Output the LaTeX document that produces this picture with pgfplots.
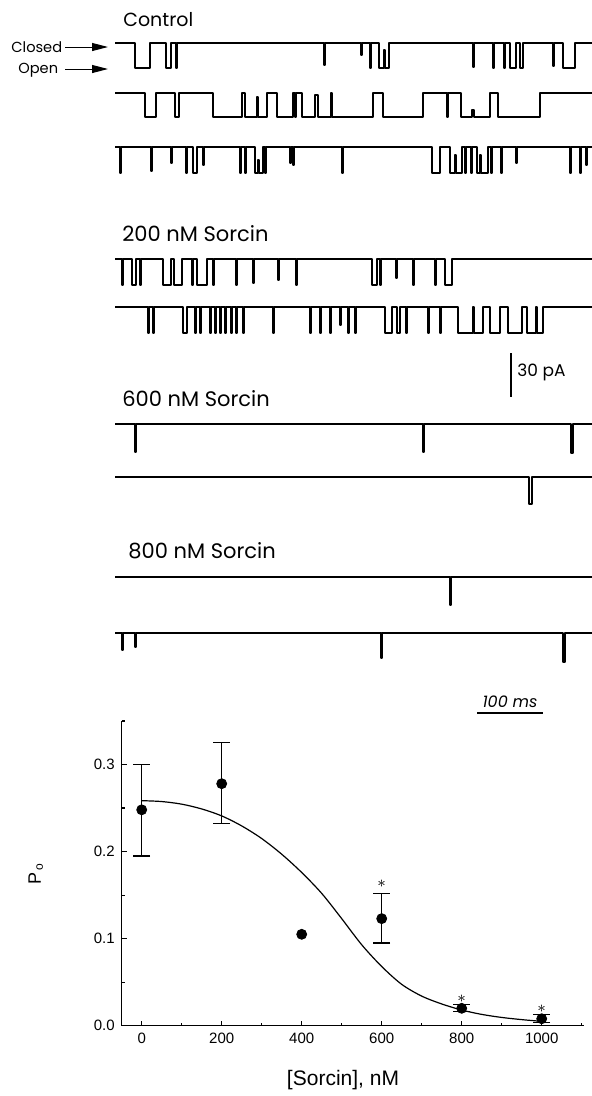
\documentclass[border=0pt]{standalone}
\usepackage{fontspec}
\setmainfont{Liberation Sans}
\newfontfamily\hand{Poppins}
\usepackage{pgfplots}
\pgfplotsset{compat=1.18}
\usetikzlibrary{arrows.meta}
\tikzset{tr/.style={black, line width=1.0pt, const plot, no marks, line join=round}}

\pgfplotstableread{
x     y      ep     em
0     0.248  0.052  0.053
200   0.278  0.047  0.046
600   0.123  0.029  0.028
800   0.020  0.004  0.004
1000  0.008  0.005  0.004
}\podata

\begin{document}
\begin{tikzpicture}
\path[use as bounding box] (0pt,0pt) rectangle (296pt,-548pt);
% ---------------- single-channel traces (pixel coordinates) ----------------
\begin{axis}[at={(0pt,0pt)}, anchor=north west, scale only axis,
  width=296pt, height=548pt, xmin=0, xmax=592, ymin=0, ymax=1096,
  y dir=reverse, hide axis, clip=false]
% Control row 1
\addplot[tr] coordinates {(115,43) (135,68) (150,43) (166,68) (170.7,43) (176.2,68) (177.2,43)
 (323.5,65) (324.5,43) (361.2,55) (362.2,43) (370.2,68) (371.2,43) (379,68) (384,50) (385,68) (389,43)
 (472.5,67) (473.5,43) (492.5,68) (493.5,43) (503.5,68) (504.5,43) (510,68) (516,43) (520,68) (523,43)
 (552.5,66) (553.5,43) (563,68) (575,43) (592,43)};
% Control row 2
\addplot[tr] coordinates {(115,93) (145,117) (156,93) (175,117) (179.3,93) (213.3,117) (241.7,93) (245,117)
 (256.5,97) (257.5,117) (266.7,93) (276.7,117) (293.3,93) (295,117) (296,93) (301.7,117) (315,95) (318,117)
 (331.2,93) (332.2,117) (373,93) (383,117) (423,93) (447,117) (448,93) (461,117) (472,110) (474,117)
 (490,93) (498,117) (540,93) (592,93)};
% Control row 3
\addplot[tr] coordinates {(115,147) (120.2,173) (121.2,147) (151.2,171) (152.2,147) (170.5,163) (171.5,147)
 (185.5,173) (186.5,147) (192.7,173) (196.7,147) (202.5,165) (203.5,147) (239.5,173) (240.5,147)
 (244.5,173) (245.5,147) (255,173) (258,160) (259,173) (263,147) (264.5,173) (265.5,147) (289.5,163)
 (290.5,147) (292.5,165) (293.5,147) (341.5,173) (342.5,147) (431.7,173) (440,147) (450,173) (455,155)
 (456,173) (461.7,147) (464.5,173) (465.5,147) (471.2,173) (472.2,147) (476.7,173) (480,155) (481,173)
 (488,147) (491.2,173) (492.2,147) (501.2,173) (502.2,147) (516.2,163) (517.2,147) (569.5,173) (570.5,147)
 (579.5,173) (580.5,147) (586.2,165) (587.2,147) (592,147)};
% 200 nM row 1
\addplot[tr] coordinates {(115,259) (122.2,285) (123.2,259) (131.7,285) (136,259) (139.5,285) (140.5,259)
 (162.7,285) (171,259) (174,285) (182,259) (192,285) (193,259) (197,285) (207,259) (212.5,285) (213.5,259)
 (236.2,285) (237.2,259) (252.5,283) (253.5,259) (277.5,280) (278.5,259) (295.5,285) (296.5,259)
 (371.7,285) (376.7,259) (379.5,285) (380.5,259) (396.2,278) (397.2,259) (412.5,285) (414,259)
 (434.5,285) (435.5,259) (445,285) (451.7,259) (592,259)};
% 200 nM row 2
\addplot[tr] coordinates {(115,307) (147.8,333) (148.8,307) (152.8,333) (153.8,307) (183.3,333) (186.7,307)
 (194.5,333) (195.5,307) (199.5,333) (200.5,307) (209.5,333) (210.5,307) (214.5,333) (215.5,307)
 (219.5,333) (220.5,307) (224.5,333) (225.5,307) (231.2,333) (232.2,307) (236.2,333) (237.2,307)
 (242.8,333) (243.8,307) (272.8,333) (273.8,307) (309.5,333) (310.5,307) (319.5,333) (320.5,307)
 (329.5,333) (330.5,307) (339.5,325) (340.5,307) (347.8,333) (348.8,307) (354.5,333) (355.5,307)
 (385,333) (391.7,307) (396.7,333) (400,307) (406.2,333) (407.2,307) (427.8,333) (428.8,307)
 (439.5,333) (440.5,307) (458.3,333) (473,307) (474,333) (483,307) (490,333) (500,307) (508,333)
 (521.7,307) (526.7,333) (536.2,307) (537.2,333) (543.3,307) (592,307)};
% 600 nM
\addplot[tr] coordinates {(115,424) (134.5,452) (136,424) (422.8,452) (423.8,424) (571.2,453) (572.7,424) (592,424)};
\addplot[tr] coordinates {(115,477) (529,504) (531.5,477) (592,477)};
% 800 nM
\addplot[tr] coordinates {(115,577) (449.5,605) (450.5,577) (592,577)};
\addplot[tr] coordinates {(115,633) (121.5,650) (122.5,633) (134.5,647) (135.5,633) (381.2,658) (382.2,633) (562.5,662) (564.5,633) (592,633)};
% scale bars
\addplot[black, no marks, line width=1pt] coordinates {(511,353) (511,397)};
\addplot[black, no marks, line width=0.6pt] coordinates {(477,713) (543,713)};
% labels
\node[anchor=base west, font=\hand\fontsize{9.5}{9.5}\selectfont, inner sep=0pt] at (axis cs:123,26) {Control};
\node[anchor=base west, font=\hand\fontsize{7.3}{7.3}\selectfont, inner sep=0pt] at (axis cs:11,52) {Closed};
\node[anchor=base west, font=\hand\fontsize{7.3}{7.3}\selectfont, inner sep=0pt] at (axis cs:18,73) {Open};
\draw[line width=0.5pt, -{Triangle[length=8pt,width=4pt]}] (axis cs:65,47) -- (axis cs:108,47);
\draw[line width=0.5pt, -{Triangle[length=8pt,width=4pt]}] (axis cs:65,69) -- (axis cs:108,69);
\node[anchor=base west, font=\hand\fontsize{10.5}{10.5}\selectfont, inner sep=0pt] at (axis cs:122,241.5) {200 nM Sorcin};
\node[anchor=base west, font=\hand\fontsize{10.5}{10.5}\selectfont, inner sep=0pt] at (axis cs:122,406.5) {600 nM Sorcin};
\node[anchor=base west, font=\hand\fontsize{10.5}{10.5}\selectfont, inner sep=0pt] at (axis cs:128,558) {800 nM Sorcin};
\node[anchor=base west, font=\hand\fontsize{8.5}{8.5}\selectfont, inner sep=0pt] at (axis cs:517,376) {30 pA};
\node[anchor=base, font=\hand\itshape\fontsize{8}{8}\selectfont, inner sep=0pt] at (axis cs:510,707) {100 ms};
\end{axis}
% ---------------- dose-response ----------------
\begin{axis}[at={(60.85pt,-512.85pt)}, anchor=south west, scale only axis,
  width=231pt, height=152.35pt,
  xmin=-50, xmax=1105, ymin=0, ymax=0.35,
  axis lines*=left, axis line style={line width=0.7pt},
  xtick={0,200,400,600,800,1000}, minor xtick={100,300,500,700,900,1100},
  ytick={0,0.1,0.2,0.3}, minor ytick={0.05,0.15,0.25,0.35},
  major tick length=2.6pt, minor tick length=1.6pt,
  every tick/.style={black, line width=0.6pt},
  tick align=inside,
  /pgf/number format/1000 sep={},
  yticklabel style={/pgf/number format/.cd, fixed, fixed zerofill, precision=1},
  /pgf/number format/assume math mode=true,
  tick label style={font=\fontsize{7.5}{9}\selectfont},
  xlabel={[Sorcin], nM},
  ylabel={P\textsubscript{\,o}},
  xlabel style={font=\fontsize{10.5}{12}\selectfont, at={(axis description cs:0.479,-0.178)}, anchor=center},
  ylabel style={font=\fontsize{9}{10}\selectfont, at={(axis description cs:-0.186,0.5)}, anchor=center},
  clip=false]
\addplot[black, line width=0.6pt, smooth, no marks] coordinates {
 (0,0.2585) (50,0.2575) (100,0.2545) (150,0.249) (200,0.241) (250,0.2295) (300,0.215) (350,0.197)
 (400,0.176) (450,0.152) (500,0.123) (550,0.093) (600,0.068) (650,0.0475) (700,0.034) (750,0.025)
 (800,0.018) (850,0.013) (900,0.0095) (950,0.007) (1000,0.005)};
\addplot[black, only marks, mark=*, mark size=2.5pt,
  error bars/.cd, y dir=both, y explicit,
  error bar style={line width=0.6pt, black},
  error mark options={rotate=90, mark size=4.2pt, line width=0.6pt, black}]
  table[x=x, y=y, y error plus=ep, y error minus=em] {\podata};
\addplot[black, only marks, mark=*, mark size=2.5pt] coordinates {(400,0.105)};
\node[font=\fontsize{8}{8}\selectfont] at (axis cs:600,0.163) {$\ast$};
\node[font=\fontsize{8}{8}\selectfont] at (axis cs:800,0.031) {$\ast$};
\node[font=\fontsize{8}{8}\selectfont] at (axis cs:1000,0.020) {$\ast$};
\end{axis}
\end{tikzpicture}
\end{document}
